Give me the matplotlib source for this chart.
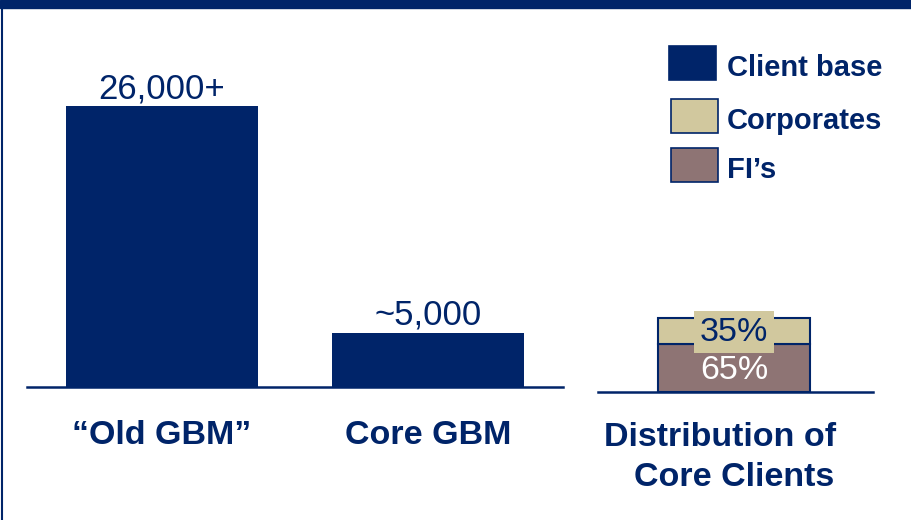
import matplotlib
matplotlib.use("Agg")
import matplotlib.pyplot as plt
from matplotlib.patches import Rectangle

W, H = 911, 520
navy = "#002469"
tan = "#D1C89E"
mauve = "#8E7474"

# client counts
categories = ["\u201cOld GBM\u201d", "Core GBM"]
clients = [26000, 5000]
client_labels = ["26,000+", "~5,000"]

# split of core clients (percent)
split_names = ["FI\u2019s", "Corporates"]
split_values = [65, 35]
split_labels = ["65%", "35%"]

plt.rcParams["font.family"] = ["Liberation Sans", "DejaVu Sans"]

fig = plt.figure(figsize=(W / 100, H / 100), dpi=100)


def fx(x):
    return x / W


def fy(y):
    return 1 - y / H


# frame: top band and left rule
fig.patches.append(Rectangle((0, fy(8)), 1, 8 / H, transform=fig.transFigure,
                             color=navy, zorder=0))
fig.add_artist(plt.Line2D([fx(2), fx(2)], [0, 1], transform=fig.transFigure,
                          color=navy, lw=1.5))

# left chart
base1 = 387
top1 = 40
ax = fig.add_axes([fx(27), fy(base1), (563 - 27) / W, (base1 - top1) / H])
ax.bar(range(len(clients)), clients, width=0.725, color=navy)
ax.set_xlim(-0.508, 1.508)
ax.set_ylim(0, 26000 * (base1 - top1) / 281)
for i, (v, lab) in enumerate(zip(clients, client_labels)):
    ax.annotate(lab, (i, v), xytext=(0, 8), textcoords="offset pixels",
                ha="center", va="baseline", fontsize=25, color=navy)
    ax.annotate(categories[i], (i, 0), xytext=(0, -48), textcoords="offset pixels",
                ha="center", va="center", fontsize=24.5, fontweight="bold", color=navy)

# right chart
base2 = 392
ax2 = fig.add_axes([fx(598), fy(base2), (873 - 598) / W, (base2 - top1) / H])
bottom = 0
for v, name, c in zip(split_values, split_names, [mauve, tan]):
    ax2.bar(0, v, bottom=bottom, width=1, color=c, edgecolor=navy, linewidth=1.5)
    bottom += v
ax2.set_xlim(-136 / 152, 139 / 152)
ax2.set_ylim(0, 100 * (base2 - top1) / 74)
ax2.text(0, split_values[0] / 2 - 4, split_labels[0], ha="center", va="center",
         fontsize=24.5, color="white")
ax2.text(0, split_values[0] + split_values[1] / 2 - 2, split_labels[1], ha="center",
         va="center", fontsize=24.5, color=navy,
         bbox=dict(boxstyle="square,pad=0.16", fc=tan, ec="none"))

for a in (ax, ax2):
    for s in ("top", "left", "right"):
        a.spines[s].set_visible(False)
    a.spines["bottom"].set_color(navy)
    a.spines["bottom"].set_linewidth(1.8)
    a.set_xticks([])
    a.set_yticks([])
    a.patch.set_alpha(0)

fig.text(fx(720), fy(437), "Distribution of", ha="center", va="center",
         fontsize=24.5, fontweight="bold", color=navy)
fig.text(fx(734), fy(478), "Core Clients", ha="center", va="center",
         fontsize=24.5, fontweight="bold", color=navy)

# legend
legend_items = [("Client base", navy, 669, 46), ("Corporates", tan, 671, 99),
                ("FI\u2019s", mauve, 671, 148)]
for name, c, x0, y0 in legend_items:
    fig.patches.append(Rectangle((fx(x0), fy(y0 + 34)), 47 / W, 34 / H,
                                 transform=fig.transFigure, fc=c, ec=navy, lw=1.2))
    fig.text(fx(727), fy(y0 + 22), name, ha="left", va="center",
             fontsize=21, fontweight="bold", color=navy)

fig.savefig("out.png", dpi=100)
